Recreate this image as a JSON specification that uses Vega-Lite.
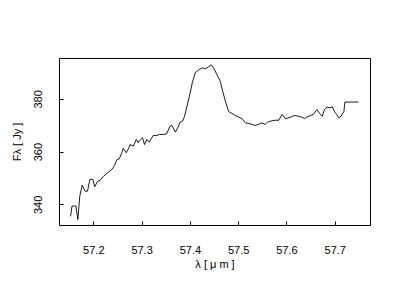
{
  "$schema": "https://vega.github.io/schema/vega-lite/v6.json",
  "width": 311,
  "height": 167,
  "autosize": {"type": "none"},
  "padding": {"left": 59, "top": 58, "right": 30, "bottom": 75},
  "background": "white",
  "config": {
    "view": {"stroke": "black", "strokeWidth": 1},
    "axis": {
      "labelFont": "Liberation Sans",
      "titleFont": "Liberation Sans",
      "labelFontSize": 11,
      "titleFontSize": 11,
      "titleFontWeight": "normal",
      "labelColor": "black",
      "titleColor": "black",
      "tickColor": "black",
      "domain": false,
      "grid": false
    }
  },
  "data": {
    "values": [
      {"lam": 57.153, "flux": 335.5},
      {"lam": 57.156, "flux": 339.4},
      {"lam": 57.164, "flux": 339.4},
      {"lam": 57.168, "flux": 334.3},
      {"lam": 57.172, "flux": 343.1},
      {"lam": 57.177, "flux": 347.3},
      {"lam": 57.183, "flux": 345.0},
      {"lam": 57.188, "flux": 345.0},
      {"lam": 57.193, "flux": 349.5},
      {"lam": 57.199, "flux": 349.5},
      {"lam": 57.203, "flux": 346.7},
      {"lam": 57.209, "flux": 348.8},
      {"lam": 57.214, "flux": 349.1},
      {"lam": 57.221, "flux": 350.7},
      {"lam": 57.226, "flux": 351.4},
      {"lam": 57.231, "flux": 352.2},
      {"lam": 57.237, "flux": 353.0},
      {"lam": 57.241, "flux": 353.9},
      {"lam": 57.245, "flux": 355.2},
      {"lam": 57.249, "flux": 357.0},
      {"lam": 57.254, "flux": 357.3},
      {"lam": 57.259, "flux": 359.6},
      {"lam": 57.262, "flux": 361.3},
      {"lam": 57.268, "flux": 359.6},
      {"lam": 57.273, "flux": 361.1},
      {"lam": 57.276, "flux": 362.7},
      {"lam": 57.283, "flux": 362.1},
      {"lam": 57.289, "flux": 364.6},
      {"lam": 57.293, "flux": 363.4},
      {"lam": 57.297, "flux": 364.4},
      {"lam": 57.302, "flux": 365.3},
      {"lam": 57.306, "flux": 362.7},
      {"lam": 57.311, "flux": 364.6},
      {"lam": 57.316, "flux": 363.6},
      {"lam": 57.321, "flux": 365.3},
      {"lam": 57.324, "flux": 366.1},
      {"lam": 57.330, "flux": 366.1},
      {"lam": 57.337, "flux": 366.5},
      {"lam": 57.345, "flux": 366.5},
      {"lam": 57.352, "flux": 366.8},
      {"lam": 57.359, "flux": 369.7},
      {"lam": 57.363, "flux": 369.9},
      {"lam": 57.370, "flux": 367.4},
      {"lam": 57.375, "flux": 369.1},
      {"lam": 57.380, "flux": 371.2},
      {"lam": 57.385, "flux": 371.6},
      {"lam": 57.389, "flux": 373.4},
      {"lam": 57.394, "flux": 377.2},
      {"lam": 57.399, "flux": 381.0},
      {"lam": 57.405, "flux": 386.1},
      {"lam": 57.411, "flux": 389.9},
      {"lam": 57.419, "flux": 391.1},
      {"lam": 57.427, "flux": 391.8},
      {"lam": 57.432, "flux": 391.4},
      {"lam": 57.439, "flux": 392.2},
      {"lam": 57.444, "flux": 392.9},
      {"lam": 57.449, "flux": 391.8},
      {"lam": 57.456, "flux": 389.2},
      {"lam": 57.463, "flux": 386.7},
      {"lam": 57.468, "flux": 382.9},
      {"lam": 57.473, "flux": 379.5},
      {"lam": 57.480, "flux": 375.3},
      {"lam": 57.487, "flux": 374.5},
      {"lam": 57.494, "flux": 373.7},
      {"lam": 57.501, "flux": 373.1},
      {"lam": 57.508, "flux": 372.5},
      {"lam": 57.515, "flux": 370.9},
      {"lam": 57.522, "flux": 370.7},
      {"lam": 57.529, "flux": 370.3},
      {"lam": 57.535, "flux": 369.9},
      {"lam": 57.542, "flux": 370.3},
      {"lam": 57.549, "flux": 370.9},
      {"lam": 57.556, "flux": 370.3},
      {"lam": 57.561, "flux": 371.2},
      {"lam": 57.568, "flux": 371.6},
      {"lam": 57.577, "flux": 371.9},
      {"lam": 57.584, "flux": 371.9},
      {"lam": 57.591, "flux": 374.1},
      {"lam": 57.598, "flux": 372.5},
      {"lam": 57.605, "flux": 372.8},
      {"lam": 57.612, "flux": 373.4},
      {"lam": 57.618, "flux": 373.7},
      {"lam": 57.625, "flux": 373.4},
      {"lam": 57.632, "flux": 373.1},
      {"lam": 57.637, "flux": 372.5},
      {"lam": 57.643, "flux": 373.2},
      {"lam": 57.650, "flux": 373.7},
      {"lam": 57.656, "flux": 374.1},
      {"lam": 57.663, "flux": 376.0},
      {"lam": 57.669, "flux": 374.4},
      {"lam": 57.674, "flux": 373.4},
      {"lam": 57.679, "flux": 376.0},
      {"lam": 57.684, "flux": 376.9},
      {"lam": 57.690, "flux": 376.6},
      {"lam": 57.695, "flux": 377.0},
      {"lam": 57.699, "flux": 375.3},
      {"lam": 57.704, "flux": 374.1},
      {"lam": 57.708, "flux": 372.8},
      {"lam": 57.713, "flux": 373.4},
      {"lam": 57.719, "flux": 375.3},
      {"lam": 57.721, "flux": 378.8},
      {"lam": 57.749, "flux": 378.8}
    ]
  },
  "mark": {"type": "line", "color": "black", "strokeWidth": 0.9},
  "encoding": {
    "x": {
      "field": "lam",
      "type": "quantitative",
      "scale": {"domain": [57.129, 57.773], "nice": false, "zero": false},
      "axis": {
        "title": "λ [ μ m ]",
        "values": [57.2, 57.3, 57.4, 57.5, 57.6, 57.7],
        "format": ".1f",
        "tickSize": -4,
        "labelPadding": 23,
        "titlePadding": 3
      }
    },
    "y": {
      "field": "flux",
      "type": "quantitative",
      "scale": {"domain": [332.2, 395.5], "nice": false, "zero": false},
      "axis": {
        "title": "Fλ [ Jy ]",
        "values": [340, 360, 380],
        "tickSize": -4,
        "labelAngle": -90,
        "labelAlign": "center",
        "labelBaseline": "bottom",
        "labelPadding": 20,
        "titlePadding": 10
      }
    }
  }
}
